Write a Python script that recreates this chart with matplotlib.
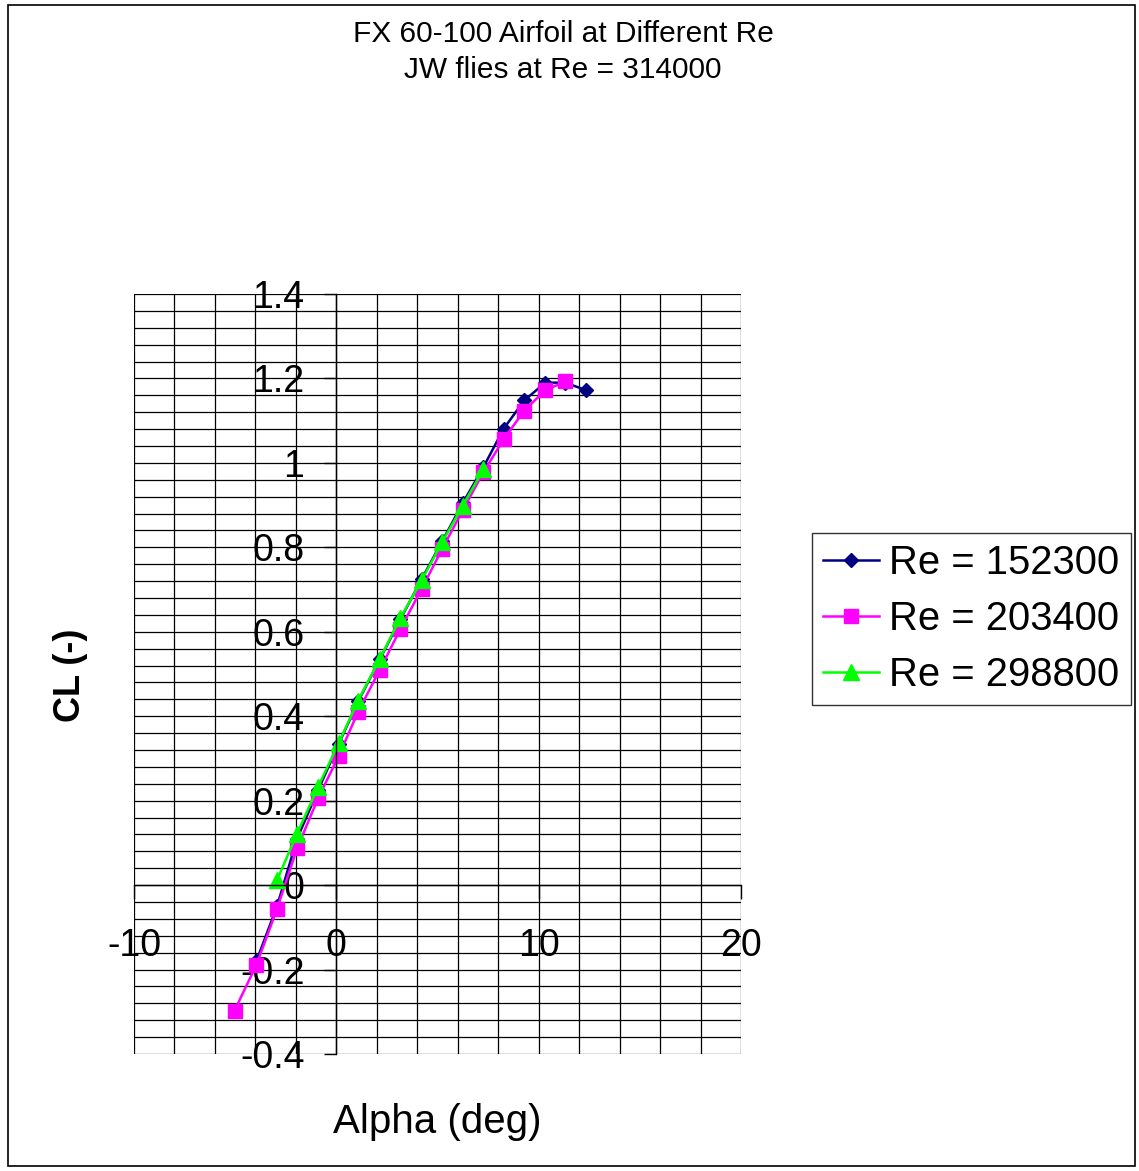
import numpy as np
import matplotlib
matplotlib.use("Agg")
from matplotlib import pyplot as plt
from matplotlib.patches import Rectangle

plt.rcParams['font.family'] = ['Liberation Sans', 'DejaVu Sans']

# values (alpha in deg, CL)
alpha_152300 = [-3.95, -2.93, -1.94, -0.90, 0.12, 1.08, 2.15, 3.17, 4.22,
                5.24, 6.25, 7.27, 8.27, 9.29, 10.33, 11.32, 12.35]
cl_152300 = [-0.18, -0.05, 0.11, 0.225, 0.335, 0.435, 0.535, 0.63, 0.725,
             0.815, 0.905, 0.99, 1.081, 1.148, 1.19, 1.19, 1.172]

alpha_203400 = [-5.03, -3.95, -2.93, -1.94, -0.90, 0.12, 1.08, 2.15, 3.17,
                4.22, 5.24, 6.25, 7.27, 8.27, 9.29, 10.33, 11.32]
cl_203400 = [-0.297, -0.189, -0.056, 0.087, 0.206, 0.306, 0.411, 0.510, 0.607,
             0.702, 0.797, 0.888, 0.978, 1.056, 1.124, 1.172, 1.193]

alpha_298800 = [-2.93, -1.94, -0.90, 0.12, 1.08, 2.15, 3.17, 4.22, 5.24,
                6.25, 7.27]
cl_298800 = [0.012, 0.122, 0.233, 0.337, 0.437, 0.536, 0.633, 0.722, 0.813,
             0.899, 0.985]

series_labels = ['Re = 152300', 'Re = 203400', 'Re = 298800']
x_ticks = [-10, 0, 10, 20]
x_ticklabels = ['-10', '0', '10', '20']
y_ticks = [-0.4, -0.2, 0, 0.2, 0.4, 0.6, 0.8, 1.0, 1.2, 1.4]
y_ticklabels = ['-0.4', '-0.2', '0', '0.2', '0.4', '0.6', '0.8', '1', '1.2', '1.4']

W, H = 1139, 1171
fig = plt.figure(figsize=(W / 100, H / 100), dpi=100)
fig.patch.set_facecolor('white')

# outer chart border
fig.add_artist(Rectangle((8 / W, 1 - 1166 / H), 1127 / W, 1161 / H,
                         transform=fig.transFigure, fill=False,
                         edgecolor='black', lw=1.2))

ax = fig.add_axes([134 / W, 1 - 1054 / H, 607 / W, 760 / H])

ax.plot(alpha_152300, cl_152300, color='#000080', lw=1.8, marker='D', ms=7.5,
        label=series_labels[0])
ax.plot(alpha_203400, cl_203400, color='#FF00FF', lw=1.8, marker='s', ms=10.5,
        label=series_labels[1])
ax.plot(alpha_298800, cl_298800, color='#00FF00', lw=1.8, marker='^', ms=11,
        label=series_labels[2])

ax.set_xlim(-10, 20)
ax.set_ylim(-0.4, 1.4)

ax.set_xticks(x_ticks)
ax.set_xticklabels(x_ticklabels)
ax.set_yticks(y_ticks)
ax.set_yticklabels(y_ticklabels)
ax.set_xticks(np.arange(-10, 21, 2), minor=True)
ax.set_yticks(np.linspace(-0.4, 1.4, 46), minor=True)

ax.grid(which='both', color='black', lw=0.9)
ax.set_axisbelow(True)

for side in ['top', 'right']:
    ax.spines[side].set_visible(False)
ax.spines['left'].set_position(('data', 0))
ax.spines['bottom'].set_position(('data', 0))
ax.spines['left'].set_linewidth(1)
ax.spines['bottom'].set_linewidth(1)

ax.tick_params(axis='x', which='major', direction='out', length=10, width=1,
               pad=21, labelsize=27)
ax.tick_params(axis='y', which='major', direction='out', length=9, width=1,
               pad=14, labelsize=27)
ax.tick_params(which='minor', length=0)

fig.text(70 / W, 1 - 675 / H, 'CL (-)', rotation=90, ha='center', va='center',
         fontsize=26, fontweight='bold')
fig.text(437 / W, 1 - 1122 / H, 'Alpha (deg)', ha='center', va='center',
         fontsize=29)
fig.text(563 / W, 1 - 52 / H, 'FX 60-100 Airfoil at Different Re\nJW flies at Re = 314000',
         ha='center', va='center', fontsize=21.5, linespacing=1.35)

leg = fig.legend(loc='center left', bbox_to_anchor=(812 / W, 1 - 619 / H),
                 fontsize=28.8, frameon=True, fancybox=False, edgecolor='black',
                 handlelength=1.4, handletextpad=0.25, borderpad=0.28,
                 labelspacing=0.44, borderaxespad=0)
leg.get_frame().set_linewidth(1)

fig.savefig('out.png', dpi=100)
